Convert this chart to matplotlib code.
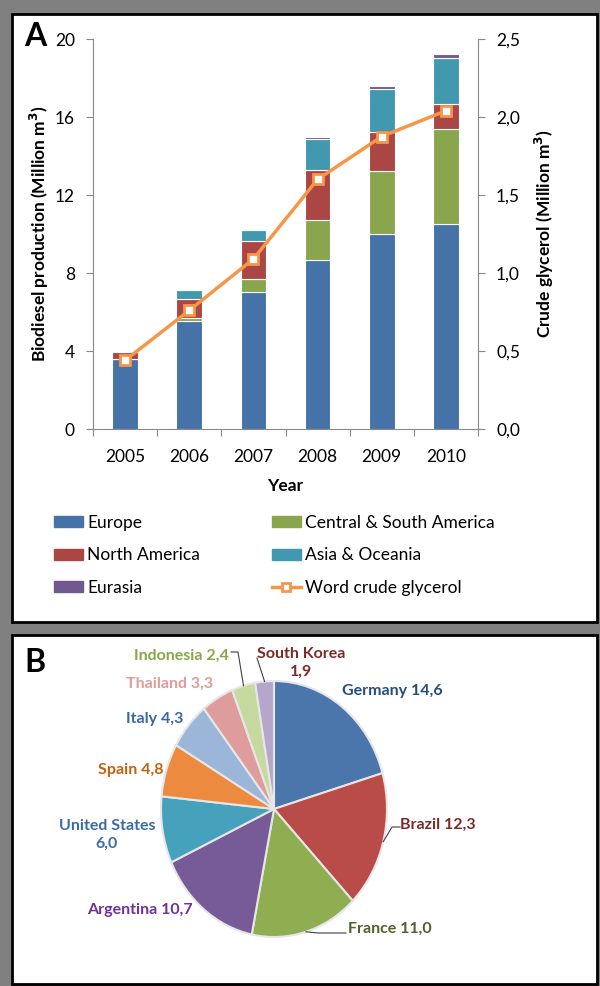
import matplotlib
matplotlib.use("Agg")
import matplotlib.pyplot as plt
import numpy as np
from matplotlib.patches import Rectangle, Patch
from matplotlib.lines import Line2D
from matplotlib.ticker import FuncFormatter, FixedLocator, NullFormatter

plt.rcParams['font.family'] = ['Lato', 'DejaVu Sans']

# ---------------- data ----------------
years = ['2005', '2006', '2007', '2008', '2009', '2010']
europe = [3.60, 5.56, 7.03, 8.68, 10.00, 10.51]
central_south_america = [0.00, 0.13, 0.65, 2.04, 3.23, 4.89]
north_america = [0.33, 0.98, 1.94, 2.58, 2.00, 1.28]
asia_oceania = [0.08, 0.48, 0.57, 1.59, 2.22, 2.33]
eurasia = [0.03, 0.00, 0.00, 0.09, 0.15, 0.20]
glycerol = [0.44, 0.76, 1.09, 1.60, 1.875, 2.04]

left_ticks = [0, 4, 8, 12, 16, 20]
right_ticks = [0.0, 0.5, 1.0, 1.5, 2.0, 2.5]

countries = ['Germany', 'Brazil', 'France', 'Argentina', 'United States',
             'Spain', 'Italy', 'Thailand', 'Indonesia', 'South Korea']
shares = [14.6, 12.3, 11.0, 10.7, 6.0, 4.8, 4.3, 3.3, 2.4, 1.9]

# ---------------- styles ----------------
W, H = 600, 986
c_eu, c_csa, c_na, c_as, c_ea = '#4572A7', '#89A54E', '#AA4643', '#4198AF', '#71588F'
c_line = '#F79646'
pie_colors = ['#4A76AC', '#B94C49', '#8FAE52', '#765B98', '#46A2BC',
              '#EC8A40', '#9CB6DA', '#DE9D9C', '#C6DA9F', '#B6A6CB']
lab_colors = ['#254E7E', '#7A2B28', '#4F6228', '#7030A0', '#3A6BA5',
              '#C0620E', '#3A66A8', '#E39A9A', '#86A846', '#7A2B28']
gray = '#888888'

fig = plt.figure(figsize=(W / 100, H / 100), dpi=100, facecolor='#808080')

def fx(px):
    return px / W

def fy(py):
    return 1 - py / H

# panels
for (x0, y0, x1, y1) in [(12, 14, 597, 622), (12, 635, 597, 984)]:
    fig.add_artist(Rectangle((fx(x0), fy(y1)), fx(x1 - x0), (y1 - y0) / H,
                             transform=fig.transFigure, facecolor='white',
                             edgecolor='black', lw=2, zorder=0))

# ---------------- panel A ----------------
ax = fig.add_axes([fx(93), fy(429), fx(478 - 93), (429 - 39) / H])
ax.set_facecolor('none')
x = np.arange(len(years))
bw = 0.4
bottom = np.zeros(len(years))
series = [(europe, c_eu, 'Europe'), (central_south_america, c_csa, 'Central & South America'),
          (north_america, c_na, 'North America'), (asia_oceania, c_as, 'Asia & Oceania'),
          (eurasia, c_ea, 'Eurasia')]
for vals, col, lab in series:
    v = np.array(vals)
    ax.bar(x, v, bw, bottom=bottom, color=col, edgecolor='white', linewidth=0.8, zorder=2)
    bottom += v
ax.set_xlim(-0.5, len(years) - 0.5)
ax.set_ylim(0, 20)
ax.set_yticks(left_ticks)
ax.xaxis.set_major_locator(FixedLocator(np.arange(-0.5, len(years), 1.0)))
ax.xaxis.set_major_formatter(NullFormatter())
ax.xaxis.set_minor_locator(FixedLocator(x))
ax.set_xticklabels(years, minor=True)
ax.tick_params(axis='x', which='minor', length=0, pad=14.5, labelsize=12.5)
ax.tick_params(axis='x', which='major', length=5, color=gray, direction='out')
ax.tick_params(axis='y', length=5, color=gray, labelsize=12.5, pad=8)
for s in ['top', 'right']:
    ax.spines[s].set_visible(False)
for s in ['left', 'bottom']:
    ax.spines[s].set_color(gray)
ax.set_xlabel('Year', fontsize=12.5, fontweight='bold', labelpad=9.5)
ax.set_ylabel('Biodiesel production (Million m$^\\mathbf{3}$)', fontsize=12.5,
              fontweight='bold', labelpad=3)

ax2 = ax.twinx()
ax2.plot(x, glycerol, color=c_line, lw=2.5, marker='s', markersize=7,
         markerfacecolor='white', markeredgecolor=c_line, markeredgewidth=2, zorder=5)
ax2.set_ylim(0, 2.5)
ax2.set_yticks(right_ticks)
ax2.yaxis.set_major_formatter(FuncFormatter(lambda v, p: f'{v:.1f}'.replace('.', ',')))
ax2.tick_params(axis='y', length=5, color=gray, labelsize=12.5, pad=8)
for s in ['top', 'left', 'bottom']:
    ax2.spines[s].set_visible(False)
ax2.spines['right'].set_color(gray)
ax2.set_ylabel('Crude glycerol (Million m$^\\mathbf{3}$)', fontsize=12.5,
               fontweight='bold', labelpad=9)

fig.text(fx(24), fy(46), 'A', fontsize=23, fontweight='bold', va='baseline')

# legend
h1 = [Patch(color=c_eu), Patch(color=c_na), Patch(color=c_ea)]
l1 = ['Europe', 'North America', 'Eurasia']
h2 = [Patch(color=c_csa), Patch(color=c_as),
      Line2D([], [], color=c_line, lw=2.5, marker='s', markersize=6,
             markerfacecolor='white', markeredgecolor=c_line, markeredgewidth=2)]
l2 = ['Central & South America', 'Asia & Oceania', 'Word crude glycerol']
for hs, ls, px in [(h1, l1, 54), (h2, l2, 272)]:
    fig.legend(hs, ls, loc='upper left', bbox_to_anchor=(fx(px), fy(515)),
               frameon=False, fontsize=12.5, handlelength=1.65, handleheight=0.6,
               handletextpad=0.25, labelspacing=0.95, borderpad=0, borderaxespad=0)

# ---------------- panel B ----------------
cx, cy, rx, ry = 274, 809, 113, 128
axp = fig.add_axes([fx(cx - 1.05 * rx), fy(cy + 1.05 * ry), fx(2.1 * rx), 2.1 * ry / H])
wedges, _ = axp.pie(shares, colors=pie_colors, startangle=90, counterclock=False,
                    wedgeprops=dict(edgecolor='#E6E6E6', linewidth=1.5))
axp.set_aspect('auto')
axp.set_xlim(-1.05, 1.05)
axp.set_ylim(-1.05, 1.05)
axp.axis('off')

fig.text(fx(24), fy(672), 'B', fontsize=23, fontweight='bold', va='baseline')

# label layout: (x px, y px, ha)
label_pos = [(392, 691, 'center'), (400, 825, 'left'), (348, 929, 'left'),
             (193, 910, 'right'), (107, 835, 'center'), (164, 770, 'right'),
             (183, 719, 'right'), (213, 684, 'right'), (229, 656, 'right'),
             (301, 663, 'center')]
for i, (name, val) in enumerate(zip(countries, shares)):
    lx, ly, ha = label_pos[i]
    sval = f'{val:.1f}'.replace('.', ',')
    if name in ('United States', 'South Korea'):
        txt = f'{name}\n{sval}'
    else:
        txt = f'{name} {sval}'
    fig.text(fx(lx), fy(ly), txt, ha=ha, va='center', fontsize=11.5, fontweight='bold',
             color=lab_colors[i], linespacing=1.3, multialignment='center')

# leader lines (attach to wedge mid-angle edge)
def edge_point(w, frac=0.5):
    ang = np.deg2rad(w.theta1 + (w.theta2 - w.theta1) * frac)
    return np.cos(ang), np.sin(ang)

leaders = {'Brazil': [(400, 827), (392, 827)], 'France': [(346, 933), (318, 933)],
           'Indonesia': [(231, 652), (238, 652)], 'South Korea': [(257, 658), (257, 658)]}
for i, name in enumerate(countries):
    if name in leaders:
        (ax0, ay0), (ax1, ay1) = leaders[name]
        ex, ey = edge_point(wedges[i])
        pxp = axp.transData.transform((ex, ey))
        px_edge = pxp[0]
        py_edge = H - pxp[1]
        fig.add_artist(Line2D([fx(ax0), fx(ax1), fx(px_edge)], [fy(ay0), fy(ay1), fy(py_edge)],
                              transform=fig.transFigure, color='#404040', lw=0.8))

fig.savefig('out.png', dpi=100, facecolor=fig.get_facecolor())
